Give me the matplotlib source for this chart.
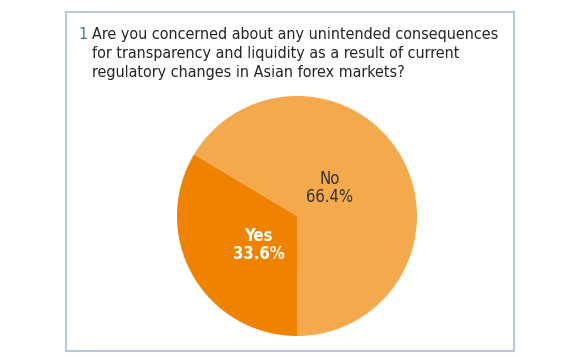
import matplotlib.pyplot as plt
from matplotlib.patches import Rectangle

labels = ["Yes", "No"]
shares = [33.6, 66.4]
colors = ["#EF8300", "#F3A94C"]
text_colors = ["white", "#333333"]
question = ("Are you concerned about any unintended consequences\n"
            "for transparency and liquidity as a result of current\n"
            "regulatory changes in Asian forex markets?")

W, H = 580, 358
fig = plt.figure(figsize=(W / 100, H / 100), dpi=100)
fig.patch.set_facecolor("white")

# frame
fig.patches.append(Rectangle((66 / W, 1 - 351 / H), (514 - 66) / W, (351 - 12) / H,
                             transform=fig.transFigure, fill=False,
                             edgecolor="#B7C9D8", linewidth=1.5))

font = ["DejaVu Sans"]
fig.text(78 / W, 1 - 27 / H, "1", color="#3A7A96", fontsize=11.5, family=font,
         stretch="condensed", va="top", ha="left")
fig.text(92 / W, 1 - 27 / H, question, color="#262626", fontsize=11.5, family=font,
         stretch="condensed", va="top", ha="left", linespacing=1.35,
         multialignment="left")

# pie
r = 120
cx, cy = 297, 216
ax = fig.add_axes([(cx - r) / W, 1 - (cy + r) / H, 2 * r / W, 2 * r / H])
wedges, _ = ax.pie(shares, colors=colors, startangle=270, counterclock=False,
                   radius=1.0)
ax.set_xlim(-1, 1)
ax.set_ylim(-1, 1)
ax.set_aspect("auto")
ax.axis("off")

label_pos = [(-0.32, -0.24), (0.27, 0.23)]
for lab, val, pos, tc in zip(labels, shares, label_pos, text_colors):
    ax.text(pos[0], pos[1], f"{lab}\n{val:.1f}%", ha="center", va="center",
            color=tc, fontsize=12, family=font, stretch="condensed", linespacing=1.0,
            fontweight="bold" if tc == "white" else "normal")

fig.savefig("out.png", dpi=100)
